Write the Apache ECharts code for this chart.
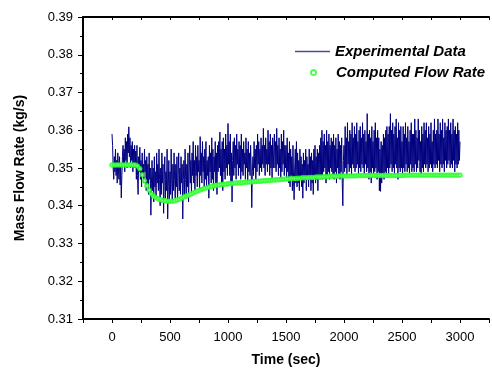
<!DOCTYPE html>
<html><head><meta charset="utf-8">
<script src="https://cdn.jsdelivr.net/npm/echarts@6/dist/echarts.min.js"></script>
<style>html,body{margin:0;padding:0;background:#fff}#c{width:492px;height:372px}</style>
</head><body><div id="c"></div>
<script>
// Experimental data, sampled every 5 s from t = 0 to 3000 s
const expStep = 5;
const expValues = [
0.3590,0.3560,0.3500,0.3470,0.3530,0.3490,0.3550,0.3480,0.3520,0.3460,0.3540,0.3500,0.3470,0.3530,0.3455,0.3510,0.3421,0.3480,0.3530,0.3560,
0.3510,0.3550,0.3490,0.3580,0.3520,0.3570,0.3500,0.3590,0.3540,0.3609,0.3530,0.3580,0.3500,0.3560,0.3520,0.3570,0.3490,0.3550,0.3510,0.3560,
0.3500,0.3545,0.3470,0.3560,0.3480,0.3430,0.3530,0.3490,0.3555,0.3470,0.3520,0.3450,0.3540,0.3480,0.3510,0.3460,0.3550,0.3490,0.3520,0.3440,
0.3530,0.3460,0.3510,0.3430,0.3540,0.3470,0.3500,0.3375,0.3460,0.3520,0.3440,0.3500,0.3410,0.3530,0.3450,0.3490,0.3420,0.3540,0.3460,0.3510,
0.3440,0.3550,0.3470,0.3400,0.3500,0.3430,0.3540,0.3460,0.3510,0.3380,0.3470,0.3530,0.3420,0.3490,0.3440,0.3550,0.3365,0.3450,0.3520,0.3410,
0.3490,0.3430,0.3550,0.3460,0.3410,0.3510,0.3440,0.3540,0.3470,0.3420,0.3510,0.3450,0.3530,0.3410,0.3480,0.3540,0.3440,0.3500,0.3430,0.3530,
0.3460,0.3510,0.3365,0.3470,0.3520,0.3430,0.3550,0.3470,0.3420,0.3510,0.3450,0.3540,0.3410,0.3490,0.3560,0.3460,0.3520,0.3430,0.3540,0.3480,
0.3570,0.3460,0.3520,0.3440,0.3560,0.3480,0.3530,0.3450,0.3560,0.3490,0.3520,0.3440,0.3583,0.3480,0.3540,0.3460,0.3570,0.3490,0.3530,0.3450,
0.3550,0.3470,0.3570,0.3450,0.3520,0.3480,0.3530,0.3420,0.3560,0.3490,0.3540,0.3460,0.3580,0.3470,0.3550,0.3440,0.3530,0.3490,0.3570,0.3460,
0.3540,0.3430,0.3560,0.3490,0.3570,0.3500,0.3595,0.3480,0.3550,0.3460,0.3570,0.3440,0.3580,0.3490,0.3550,0.3470,0.3590,0.3500,0.3560,0.3480,
0.3618,0.3510,0.3570,0.3480,0.3590,0.3460,0.3540,0.3410,0.3520,0.3570,0.3480,0.3580,0.3500,0.3560,0.3470,0.3590,0.3510,0.3550,0.3480,0.3570,
0.3500,0.3560,0.3470,0.3590,0.3490,0.3550,0.3480,0.3570,0.3510,0.3540,0.3470,0.3580,0.3500,0.3550,0.3460,0.3570,0.3490,0.3540,0.3480,0.3560,
0.3500,0.3395,0.3490,0.3530,0.3480,0.3570,0.3500,0.3550,0.3470,0.3560,0.3490,0.3590,0.3510,0.3570,0.3480,0.3550,0.3500,0.3580,0.3490,0.3560,
0.3510,0.3605,0.3500,0.3560,0.3480,0.3580,0.3510,0.3550,0.3490,0.3600,0.3510,0.3570,0.3480,0.3590,0.3500,0.3560,0.3470,0.3580,0.3500,0.3550,
0.3590,0.3500,0.3570,0.3490,0.3605,0.3510,0.3560,0.3480,0.3580,0.3500,0.3550,0.3470,0.3590,0.3490,0.3570,0.3510,0.3600,0.3480,0.3560,0.3500,
0.3560,0.3470,0.3580,0.3490,0.3540,0.3460,0.3570,0.3450,0.3550,0.3480,0.3530,0.3440,0.3560,0.3470,0.3416,0.3500,0.3550,0.3460,0.3570,0.3450,
0.3540,0.3460,0.3520,0.3440,0.3550,0.3470,0.3530,0.3450,0.3510,0.3420,0.3540,0.3460,0.3520,0.3470,0.3550,0.3440,0.3530,0.3480,0.3510,0.3450,
0.3550,0.3470,0.3530,0.3440,0.3540,0.3460,0.3520,0.3430,0.3550,0.3480,0.3560,0.3460,0.3530,0.3470,0.3550,0.3440,0.3540,0.3480,0.3560,0.3470,
0.3580,0.3480,0.3600,0.3470,0.3570,0.3490,0.3590,0.3500,0.3560,0.3460,0.3600,0.3480,0.3570,0.3490,0.3590,0.3470,0.3560,0.3500,0.3580,0.3490,
0.3570,0.3480,0.3590,0.3470,0.3560,0.3490,0.3580,0.3460,0.3550,0.3500,0.3590,0.3480,0.3570,0.3470,0.3560,0.3490,0.3580,0.3460,0.3400,0.3520,
0.3560,0.3490,0.3610,0.3500,0.3580,0.3480,0.3620,0.3510,0.3570,0.3490,0.3600,0.3500,0.3590,0.3480,0.3620,0.3510,0.3580,0.3500,0.3610,0.3490,
0.3590,0.3500,0.3620,0.3510,0.3570,0.3480,0.3600,0.3500,0.3610,0.3490,0.3580,0.3510,0.3620,0.3500,0.3590,0.3480,0.3600,0.3510,0.3570,0.3490,
0.3644,0.3500,0.3590,0.3470,0.3600,0.3490,0.3580,0.3460,0.3610,0.3500,0.3570,0.3480,0.3600,0.3490,0.3620,0.3500,0.3580,0.3470,0.3600,0.3490,
0.3580,0.3440,0.3550,0.3438,0.3570,0.3460,0.3560,0.3480,0.3590,0.3470,0.3580,0.3490,0.3600,0.3480,0.3610,0.3500,0.3590,0.3480,0.3610,0.3500,
0.3644,0.3510,0.3600,0.3490,0.3620,0.3500,0.3590,0.3480,0.3610,0.3510,0.3630,0.3500,0.3580,0.3470,0.3620,0.3500,0.3600,0.3490,0.3610,0.3500,
0.3570,0.3480,0.3610,0.3500,0.3590,0.3490,0.3620,0.3510,0.3580,0.3490,0.3610,0.3500,0.3570,0.3480,0.3600,0.3510,0.3620,0.3490,0.3590,0.3500,
0.3590,0.3490,0.3630,0.3510,0.3600,0.3490,0.3580,0.3500,0.3630,0.3520,0.3600,0.3490,0.3570,0.3480,0.3610,0.3500,0.3590,0.3490,0.3620,0.3510,
0.3600,0.3500,0.3620,0.3510,0.3580,0.3490,0.3610,0.3500,0.3590,0.3510,0.3620,0.3500,0.3570,0.3490,0.3600,0.3510,0.3630,0.3500,0.3590,0.3510,
0.3600,0.3500,0.3630,0.3520,0.3590,0.3490,0.3620,0.3510,0.3600,0.3500,0.3630,0.3510,0.3580,0.3490,0.3620,0.3520,0.3600,0.3500,0.3610,0.3510,
0.3630,0.3520,0.3600,0.3500,0.3620,0.3510,0.3590,0.3500,0.3630,0.3520,0.3600,0.3490,0.3610,0.3510,0.3590,0.3500,0.3620,0.3510,0.3600,0.3520,
0.3570
];
// Computed flow rate, every 20 s from t = 0 to 3000 s
const compStep = 20;
const compValues = [
0.3508,0.3508,0.3508,0.3508,0.3508,0.3508,0.3508,0.3508,0.3508,0.3508,0.3508,
0.3505,0.3498,0.3482,0.3466,0.3453,0.3441,0.3431,0.3425,0.3421,0.3418,
0.3416,0.3414,0.3413,0.3412,0.3412,0.3412,0.3413,0.3415,0.3417,0.3420,
0.3423,0.3426,0.3428,0.3431,0.3434,0.3437,0.3439,0.3442,0.3444,0.3446,
0.3448,0.3450,0.3451,0.3453,0.3454,0.3455,0.3456,0.3457,0.3457,0.3458,
0.3459,0.3459,0.3460,0.3460,0.3461,0.3461,0.3462,0.3462,0.3463,0.3463,0.3464,0.3464,0.3465,0.3465,0.3466,0.3466,0.3467,0.3467,0.3468,0.3468,0.3469,0.3469,0.3470,0.3470,0.3471,
0.3471,0.3472,0.3472,0.3472,0.3473,0.3473,0.3474,0.3474,0.3474,0.3475,0.3475,0.3475,0.3476,0.3476,0.3476,0.3477,0.3477,0.3477,0.3478,0.3478,0.3478,0.3478,0.3479,0.3479,0.3479,
0.3479,0.3479,0.3479,0.3479,0.3479,0.3480,0.3480,0.3480,0.3480,0.3480,0.3480,0.3480,0.3480,0.3480,0.3480,0.3480,0.3480,0.3480,0.3480,0.3480,0.3480,0.3480,0.3480,0.3480,0.3480,
0.3481,0.3481,0.3481,0.3481,0.3481,0.3481,0.3481,0.3481,0.3481,0.3481,0.3481,0.3481,0.3481,0.3481,0.3481,0.3481,0.3481,0.3481,0.3481,0.3481,0.3481,0.3481,0.3481,0.3481,0.3481
];
const seriesNames = ['Experimental Data', 'Computed Flow Rate'];
const xTitle = 'Time (sec)';
const yTitle = 'Mass Flow Rate (kg/s)';

const expData = expValues.map((v, i) => [i * expStep, v]);
const compData = compValues.map((v, i) => [i * compStep, v]);

const FONT = '"Liberation Sans", Arial, sans-serif';
const legendText = {fontFamily: FONT, fontSize: 15, fontWeight: 'bold', fontStyle: 'italic', color: '#000'};
const chart = echarts.init(document.getElementById('c'), null, {renderer: 'canvas'});
chart.setOption({
  animation: false,
  backgroundColor: '#ffffff',
  grid: {left: 83, top: 17, width: 416, height: 305, containLabel: false},
  legend: [
    {data: [{name: seriesNames[0], icon: 'rect', itemStyle: {color: '#4a4aa0', borderWidth: 0}}],
     left: 295, top: 44, padding: 0, itemWidth: 35, itemHeight: 1.5,
     textStyle: Object.assign({}, legendText)},
    {data: [seriesNames[1]], left: 310, top: 65, padding: 0, itemWidth: 5, itemHeight: 5,
     textStyle: Object.assign({}, legendText, {padding: [0, 0, 0, 15]})}
  ],
  xAxis: [
    {type: 'value', min: -250, max: 3250, interval: 250, position: 'bottom',
     name: xTitle, nameLocation: 'middle', nameGap: 34,
     nameTextStyle: {fontFamily: FONT, fontSize: 14, fontWeight: 'bold', color: '#000'},
     axisLine: {show: true, onZero: false, lineStyle: {color: '#000', width: 2}},
     axisTick: {show: true, inside: false, length: 4, lineStyle: {color: '#000', width: 1}},
     axisLabel: {fontFamily: FONT, fontSize: 13, color: '#000', margin: 12,
       formatter: v => (v >= 0 && v % 500 === 0) ? String(v) : ''},
     splitLine: {show: false}},
    {type: 'value', min: -250, max: 3250, interval: 250, position: 'top',
     axisLine: {show: true, onZero: false, lineStyle: {color: '#000', width: 2}},
     axisTick: {show: true, inside: true, length: 3, lineStyle: {color: '#000', width: 1}},
     axisLabel: {show: false}, splitLine: {show: false}}
  ],
  yAxis: {type: 'value', min: 0.31, max: 0.39, interval: 0.01,
    name: yTitle, nameLocation: 'middle', nameGap: 56,
    nameTextStyle: {fontFamily: FONT, fontSize: 14, fontWeight: 'bold', color: '#000'},
    axisLine: {show: true, onZero: false, lineStyle: {color: '#000', width: 2}},
    axisTick: {show: true, inside: false, length: 5, lineStyle: {color: '#000', width: 1}},
    minorTick: {show: true, splitNumber: 2, length: 3, lineStyle: {color: '#000', width: 1}},
    axisLabel: {fontFamily: FONT, fontSize: 13, color: '#000', margin: 10,
      formatter: v => v.toFixed(2)},
    splitLine: {show: false}},
  series: [
    {name: seriesNames[0], type: 'line', data: expData, showSymbol: false, symbol: 'none',
     lineStyle: {color: '#000080', width: 1}, itemStyle: {color: '#000080'}, z: 2},
    {name: seriesNames[1], type: 'scatter', data: compData, symbol: 'emptyCircle', symbolSize: 3.5,
     itemStyle: {color: '#22ff22', borderColor: '#22ff22', borderWidth: 0.8}, z: 3}
  ]
});
</script></body></html>
